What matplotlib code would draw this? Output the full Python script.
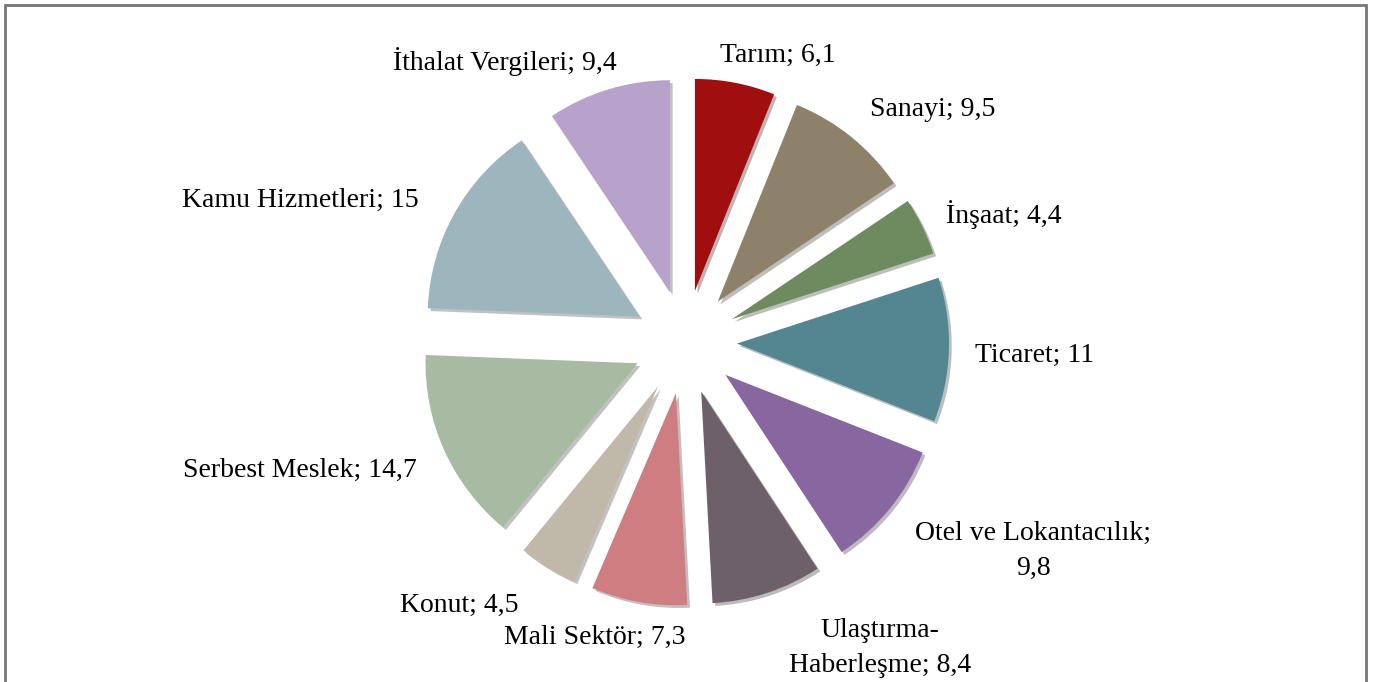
import matplotlib.pyplot as plt
import matplotlib.patheffects as pe
from matplotlib.patches import Rectangle

# sector shares (%)
sectors = ['Tarım', 'Sanayi', 'İnşaat', 'Ticaret', 'Otel ve Lokantacılık',
           'Ulaştırma-Haberleşme', 'Mali Sektör', 'Konut', 'Serbest Meslek',
           'Kamu Hizmetleri', 'İthalat Vergileri']
shares = [6.1, 9.5, 4.4, 11, 9.8, 8.4, 7.3, 4.5, 14.7, 15, 9.4]
label_texts = ['Tarım; 6,1', 'Sanayi; 9,5', 'İnşaat; 4,4', 'Ticaret; 11',
               'Otel ve Lokantacılık;\n9,8', 'Ulaştırma-\nHaberleşme; 8,4',
               'Mali Sektör; 7,3', 'Konut; 4,5', 'Serbest Meslek; 14,7',
               'Kamu Hizmetleri; 15', 'İthalat Vergileri; 9,4']

colors = ['#A00E10', '#8E8169', '#6E8B60', '#538690', '#8866A0', '#6D6068',
          '#CE7E80', '#C0B8A8', '#A6BBA2', '#9DB5BC', '#B6A2CA']

# label anchor points in pixel coords (x, y from top)
label_pos = [(778, 55), (933, 110), (1004, 215), (1035, 355), (1033, 551),
             (880, 648), (595, 637), (459, 605), (300, 470), (300, 200),
             (505, 62)]

W, H = 1379, 682
fig = plt.figure(figsize=(W / 100, H / 100), dpi=100)
ax = fig.add_axes([0, 0, 1, 1])

cx, cy, R = 685, H - 342, 212
gap = 52  # explode offset in data (pixel) units
wedges, _ = ax.pie(shares, colors=colors, startangle=90, counterclock=False,
                   center=(cx, cy), radius=R, explode=[gap] * len(shares),
                   wedgeprops=dict(linewidth=0))
ax.set_xlim(0, W)
ax.set_ylim(0, H)
ax.set_aspect('equal')
ax.axis('off')
for w in wedges:
    w.set_path_effects([pe.SimplePatchShadow(offset=(2, -2), alpha=0.3),
                        pe.Normal()])

for txt, (x, y) in zip(label_texts, label_pos):
    ax.text(x, H - y, txt, ha='center', va='center', fontsize=20,
            family='Liberation Serif', color='black', linespacing=1.5)

# outer frame
fig.patches.append(Rectangle((4.5 / W, -0.01), (1366 - 4.5) / W, (H - 4.5) / H + 0.01,
                             transform=fig.transFigure, fill=False,
                             edgecolor='#767676', linewidth=2))

fig.savefig('out.png', dpi=100)
